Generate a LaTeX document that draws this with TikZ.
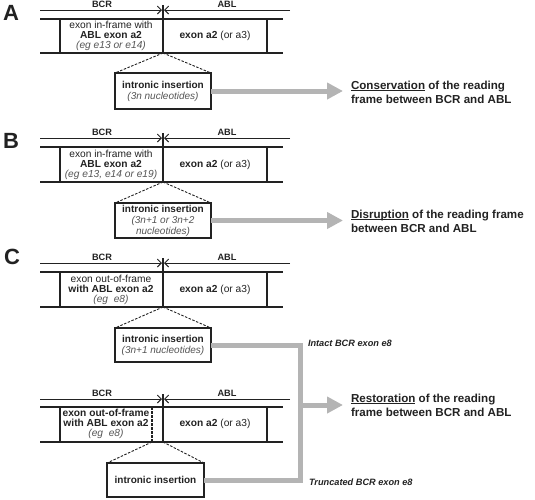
\documentclass[tikz,border=0pt]{standalone}
\usepackage{fontspec}
\setmainfont{Liberation Sans}
\usetikzlibrary{arrows.meta}
\definecolor{ln}{HTML}{222222}
\definecolor{arr}{HTML}{B4B4B4}
\definecolor{itc}{HTML}{555555}
\newcommand\myul[1]{\setbox0\hbox{#1}\rlap{\rule[-1.7pt]{\wd0}{0.8pt}}\box0\relax}
\tikzset{
  every node/.style={inner sep=0pt, outer sep=0pt},
  gline/.style={draw=ln, line width=1.3pt},
  boxtxt/.style={align=center, font=\fontsize{10.2}{10}\selectfont, text=ln},
  insbox/.style={draw=ln, line width=1.5pt, minimum width=96pt, minimum height=36pt, align=center, font=\fontsize{10}{11}\selectfont, text=ln, fill=white},
  dashl/.style={draw=ln, dash pattern=on 2.5pt off 1.5pt, line width=0.9pt},
  bigarr/.style={draw=arr, line width=5pt, -{Triangle[length=16pt 0 0, width=16pt 0 0]}},
  graypath/.style={draw=arr, line width=5pt, line join=miter},
  res/.style={anchor=west, align=left, font=\fontsize{11.6}{14}\selectfont\bfseries, text=ln},
  panel/.style={font=\fontsize{22}{22}\selectfont\bfseries, text=ln},
  gene/.style={font=\fontsize{9.2}{9.2}\selectfont\bfseries, text=ln},
  junc/.style={draw=ln, line width=0.9pt, -{Straight Barb[length=4pt,width=8pt]}},
  side/.style={anchor=west, font=\fontsize{9.2}{9.2}\selectfont\bfseries\itshape, text=ln},
}
\newcommand\generow[4]{% #1 name, #2 yU, #3 yT, #4 yB
  \node[gene] (#1bcr) at (102,#2-6) {BCR};
  \node[gene] (#1abl) at (227,#2-6) {ABL};
  \coordinate (#1ul) at (40,#2);
  \coordinate (#1ur) at (290,#2);
  \coordinate (#1jl) at (162,#2);
  \coordinate (#1jr) at (164,#2);
  \draw[junc] (#1ul) -- (#1jl);
  \draw[junc] (#1ur) -- (#1jr);
  \coordinate (#1jt) at (163,#2-5);
  \coordinate (#1j) at (163,#4);
  \draw[gline] (#1jt) -- (#1j);
  \draw[gline] (40,#3) -- (283,#3);
  \draw[gline] (40,#4) -- (283,#4);
  \draw[gline] (60,#3) -- (60,#4);
  \draw[gline] (267,#3) -- (267,#4);
}
\begin{document}
\begin{tikzpicture}[x=1pt,y=-1pt]
\useasboundingbox (0,0) rectangle (535,499);

% ---------- A ----------
\node[panel] (pA) at (11,13) {A};
\generow{A}{10}{19}{53}
\node[boxtxt] (Aleft) at (111,36) {exon in-frame with\\\textbf{ABL exon a2}\\{\itshape\color{itc}(eg e13 or e14)}};
\node[boxtxt] (Aright) at (215,36) {\textbf{exon a2} (or a3)};
\node[insbox] (insA) at (163,91) {\textbf{intronic insertion}\\{\itshape\color{itc}(3n nucleotides)}};
\draw[dashl] (Aj) -- (insA.north west);
\draw[dashl] (Aj) -- (insA.north east);
\coordinate (endA) at (343,91);
\draw[bigarr] (insA.east) -- (endA);
\node[res] (resA) at (351,92) {\myul{Conservation} of the reading\\frame between BCR and ABL};

% ---------- B ----------
\node[panel] (pB) at (11,141) {B};
\generow{B}{138}{147}{182}
\node[boxtxt] (Bleft) at (111,164.5) {exon in-frame with\\\textbf{ABL exon a2}\\{\itshape\color{itc}(eg e13, e14 or e19)}};
\node[boxtxt] (Bright) at (215,164.5) {\textbf{exon a2} (or a3)};
\node[insbox, minimum height=35pt] (insB) at (163,220.5) {\textbf{intronic insertion}\\{\itshape\color{itc}(3n+1 or 3n+2}\\{\itshape\color{itc}nucleotides)}};
\draw[dashl] (Bj) -- (insB.north west);
\draw[dashl] (Bj) -- (insB.north east);
\coordinate (endB) at (343,220.5);
\draw[bigarr] (insB.east) -- (endB);
\node[res] (resB) at (351,221) {\myul{Disruption} of the reading frame\\between BCR and ABL};

% ---------- C (intact) ----------
\node[panel] (pC) at (12,257) {C};
\generow{C}{263}{272}{307}
\node[boxtxt] (Cleft) at (111,289.5) {exon out-of-frame\\\textbf{with ABL exon a2}\\{\itshape\color{itc}(eg\ \ e8)}};
\node[boxtxt] (Cright) at (215,289.5) {\textbf{exon a2} (or a3)};
\node[insbox, minimum height=34pt] (insC) at (163,345) {\textbf{intronic insertion}\\{\itshape\color{itc}(3n+1 nucleotides)}};
\draw[dashl] (Cj) -- (insC.north west);
\draw[dashl] (Cj) -- (insC.north east);

% ---------- C (truncated) ----------
\generow{D}{399}{407}{442}
\node[boxtxt] (Dleft) at (106,424) {\textbf{exon out-of-frame}\\\textbf{with ABL exon a2}\\{\itshape\color{itc}(eg\ \ e8)}};
\node[boxtxt] (Dright) at (215,424) {\textbf{exon a2} (or a3)};
\coordinate (Dct) at (152,407);
\coordinate (Dcb) at (152,442);
\draw[dashl, line width=1.2pt] (Dct) -- (Dcb);
\node[insbox, minimum width=97pt, minimum height=34pt] (insD) at (155.5,480) {\textbf{intronic insertion}};
\draw[dashl] (Dcb) -- (insD.north west);
\draw[dashl] (Dj) -- (insD.north east);

% ---------- restoration path ----------
\coordinate (cTop) at (300,345);
\coordinate (cBot) at (300,480);
\coordinate (cMid) at (300,405);
\coordinate (endC) at (343,405);
\draw[graypath] (insC.east) -- (cTop) -- (cBot) -- (insD.east);
\draw[bigarr] (cMid) -- (endC);
\node[side] (intact) at (308,343) {Intact BCR exon e8};
\node[side] (trunc) at (309,482) {Truncated BCR exon e8};
\node[res] (resC) at (351,405) {\myul{Restoration} of the reading\\frame between BCR and ABL};
\end{tikzpicture}
\end{document}
